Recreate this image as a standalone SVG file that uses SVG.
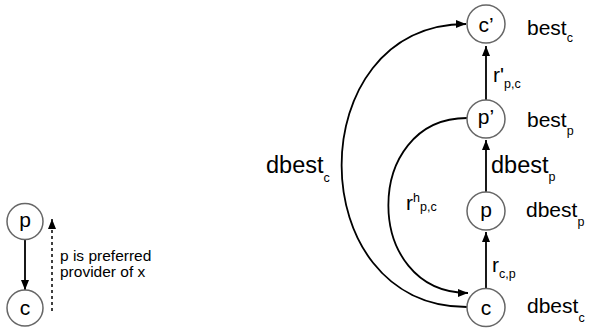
<svg xmlns="http://www.w3.org/2000/svg" width="594" height="335" viewBox="0 0 594 335">
<style>
text{font-family:"Liberation Sans",Arial,sans-serif;fill:#000}
.node{fill:#fff;stroke:#666;stroke-width:1.5}
.nl{font-size:21px;text-anchor:middle}
.lbl{font-size:21px}
.big{font-size:23.5px}
.sub{font-size:12.5px}
.edge{fill:none;stroke:#000;stroke-width:1.8}
.dash{fill:none;stroke:#000;stroke-width:1.5;stroke-dasharray:3 3}
.note{font-size:15.5px}
</style>
<defs>
<marker id="ah" markerUnits="userSpaceOnUse" markerWidth="10" markerHeight="8" refX="10" refY="4" orient="auto">
<path d="M0,0 L10,4 L0,8 z" fill="#000"/>
</marker>
</defs>
<rect width="594" height="335" fill="#fff"/>
<g id="connectors">
<path class="edge" d="M25,240 L25,290" marker-end="url(#ah)"/>
<path class="dash" d="M52,311 L52,219" marker-end="url(#ah)"/>
<path class="edge" d="M486,100 L486,46" marker-end="url(#ah)"/>
<path class="edge" d="M486,192 L486,140" marker-end="url(#ah)"/>
<path class="edge" d="M486,288 L486,232" marker-end="url(#ah)"/>
<path class="edge" d="M467,307 C300,307 300,24 466,24" marker-end="url(#ah)"/>
<path class="edge" d="M467,118 C362,118 362,293 468,293" marker-end="url(#ah)"/>
</g>
<g id="node-left-p"><circle class="node" cx="25" cy="221.5" r="18"/><text class="nl" x="25" y="227">p</text></g>
<g id="node-left-c"><circle class="node" cx="25" cy="308" r="18"/><text class="nl" x="25" y="315">c</text></g>
<g id="node-c-prime"><circle class="node" cx="486" cy="24" r="19"/><text class="nl" x="486" y="32">c’</text>
<text class="lbl" x="527" y="35">best<tspan class="sub" dy="7">c</tspan></text></g>
<g id="node-p-prime"><circle class="node" cx="486" cy="119" r="19"/><text class="nl" x="486" y="124">p’</text>
<text class="lbl" x="527" y="127">best<tspan class="sub" dy="8">p</tspan></text></g>
<g id="node-p"><circle class="node" cx="486" cy="211" r="19"/><text class="nl" x="486" y="217">p</text>
<text class="lbl" x="526" y="217">dbest<tspan class="sub" dy="9">p</tspan></text></g>
<g id="node-c"><circle class="node" cx="486" cy="307.5" r="19"/><text class="nl" x="486" y="315">c</text>
<text class="lbl" x="527" y="313">dbest<tspan class="sub" dy="9">c</tspan></text></g>
<g id="labels">
<text class="note" x="60" y="261">p is preferred</text>
<text class="note" x="60" y="277">provider of x</text>
<text class="lbl" x="493" y="82">r'<tspan class="sub" dy="6">p,c</tspan></text>
<text class="big" x="491" y="173">dbest<tspan class="sub" dy="8">p</tspan></text>
<text class="big" x="266" y="173">dbest<tspan class="sub" dy="9">c</tspan></text>
<text class="lbl" x="406" y="210">r<tspan class="sub" dy="-8">h</tspan><tspan class="sub" dy="9">p,c</tspan></text>
<text class="lbl" x="492" y="272">r<tspan class="sub" dy="6">c,p</tspan></text>
</g>
</svg>
